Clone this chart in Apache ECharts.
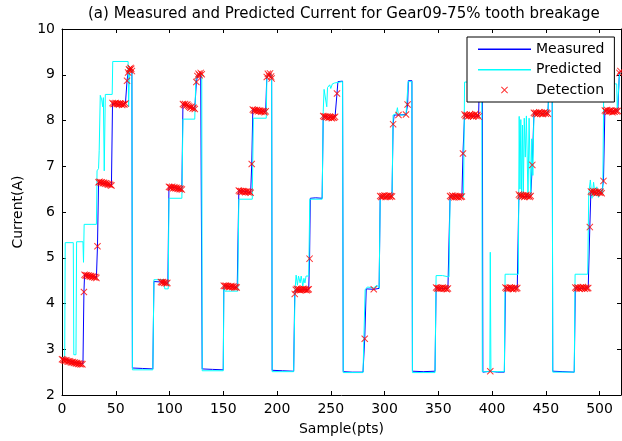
<!DOCTYPE html>
<html><head><meta charset="utf-8">
<script src="https://cdn.jsdelivr.net/npm/echarts@6/dist/echarts.min.js"></script>
<style>html,body{margin:0;padding:0;background:#fff}#c{width:622px;height:441px}</style>
</head><body><div id="c"></div>
<script>
const titleText = '(a) Measured and Predicted Current for Gear09-75% tooth breakage';
const xRange = [0, 520];
const xStep = 50;
const yRange = [2, 10];
const yStep = 1;
const seriesNames = ['Measured', 'Predicted', 'Detection'];

const measured = [
[0,2.8],[4,2.77],[8,2.73],[12,2.71],[16,2.69],[19.5,2.68],[20.4,4.25],[21,4.63],[27,4.6],[32,4.56],[33,5.25],[34,6.65],[40,6.62],[46,6.58],[47,8.38],[53,8.35],[59,8.37],[60.5,8.87],[61.5,9.05],[63.7,9.15],[65,9.08],[65.5,2.59],[75,2.58],[84.5,2.57],[85.5,4.48],[92,4.47],[98.5,4.44],[99.5,6.55],[105,6.53],[111.5,6.49],[112.5,8.36],[118,8.31],[123.5,8.25],[125,8.84],[126,8.97],[129,9.04],[130,9.0],[130.4,2.57],[140,2.56],[150,2.55],[150.5,4.39],[156,4.37],[163,4.35],[164.5,6.47],[170,6.45],[175.5,6.42],[176.5,7.05],[177.5,8.24],[183,8.21],[189.5,8.2],[190.5,8.95],[193.5,9.03],[195,8.92],[195.5,2.54],[205,2.53],[215.5,2.52],[216.5,4.21],[217.5,4.3],[223,4.3],[229.5,4.31],[230.3,4.98],[231,6.3],[236,6.31],[242,6.3],[243,8.1],[248,8.07],[254,8.08],[255.8,8.59],[256.7,8.85],[261,8.86],[261.6,2.51],[270,2.5],[280,2.5],[281.6,3.23],[283,4.32],[290,4.31],[295,4.33],[296,6.35],[301,6.33],[307,6.34],[308,7.92],[309,8.12],[313,8.12],[320,8.13],[321.5,8.35],[322.2,8.87],[325.5,8.87],[326,2.52],[336,2.51],[347,2.52],[348,4.35],[353,4.33],[359,4.33],[361,6.35],[366,6.35],[372,6.34],[373,7.28],[374.5,8.13],[380,8.1],[387.5,8.09],[388.5,9.0],[391,9.0],[391.5,2.5],[398.4,2.52],[405,2.5],[411.5,2.5],[412.5,4.35],[418,4.34],[423.5,4.34],[425,6.38],[430,6.33],[436,6.35],[437.5,7.03],[439,8.17],[445,8.15],[452,8.15],[453.5,9.0],[456,9.0],[456.5,2.52],[466,2.51],[476.5,2.5],[477.5,4.35],[483,4.33],[489.5,4.34],[491,5.67],[492,6.45],[497,6.41],[502,6.41],[503.7,6.68],[505,8.22],[510,8.2],[517,8.21],[518.5,9.04],[520,9.08]
];

const predicted = [
[0,2.82],[2.5,2.82],[3,5.33],[10.5,5.33],[11,2.88],[13,2.88],[13.6,5.35],[19.5,5.35],[20,4.9],[20.6,5.73],[32,5.73],[32.6,6.9],[34,6.95],[34.6,7.35],[35.6,8.55],[37,8.45],[37.8,8.3],[38.5,8.5],[39.3,6.9],[40.3,8.57],[46.7,8.57],[47.2,9.29],[61.5,9.29],[62,8.3],[62.8,9.1],[65,9.1],[65.5,2.55],[84.5,2.55],[85.5,4.52],[95,4.52],[95.6,4.32],[98.8,4.32],[99.5,6.3],[111.5,6.3],[112.5,8.03],[123.5,8.03],[124.5,8.9],[126,9.0],[130,9.0],[130.4,2.53],[150,2.53],[150.6,4.38],[151.5,4.27],[163.5,4.27],[164.5,6.28],[177,6.28],[178,8.05],[190,8.05],[190.6,8.98],[195,9.0],[195.5,2.51],[215.5,2.51],[216.8,4.3],[217.8,4.62],[219,4.4],[220,4.6],[221.5,4.45],[222.5,4.6],[224,4.38],[225,4.55],[226,4.45],[227,4.6],[229.5,4.6],[230.5,6.28],[242,6.28],[243,8.2],[243.8,8.68],[245.5,8.72],[246.3,8.3],[247,8.72],[249,8.78],[250,8.7],[251.5,8.8],[253.5,8.82],[254.5,8.85],[261,8.85],[261.6,2.49],[280,2.49],[282,4.3],[284,4.36],[290,4.34],[293,4.4],[295,4.34],[296,6.34],[307,6.34],[308,8.12],[311,8.15],[312,8.28],[313,8.12],[320,8.12],[322,8.85],[325.5,8.85],[326,2.49],[347,2.49],[348,4.61],[354,4.61],[355,4.58],[360,4.58],[361,6.34],[373.5,6.34],[374.5,8.84],[390.5,8.84],[391,2.51],[398,2.51],[398.4,5.12],[399,2.51],[411.5,2.51],[412.2,4.64],[416,4.64],[416.6,4.68],[417.5,4.64],[424.5,4.64],[425.3,8.09],[426,6.5],[426.8,8.02],[427.6,6.3],[428.4,7.9],[429.2,6.4],[430,8.05],[431,7.2],[432,8.1],[433.5,6.3],[434.5,8.05],[436,6.35],[437,7.6],[438,6.8],[439,8.15],[452,8.16],[453.5,9.0],[456,9.0],[456.5,2.5],[476.5,2.5],[477.3,4.64],[489,4.64],[490,6.4],[491.5,6.7],[493,6.3],[494.5,6.65],[496,6.35],[497.5,6.55],[499,6.32],[501,6.5],[503,6.4],[504,8.8],[516,8.8],[516.5,8.22],[518,8.22],[518.6,9.0],[520,9.05]
];

const detection = [
[0,2.78],[1,2.77],[2,2.76],[3,2.75],[4,2.76],[5,2.74],[6,2.73],[7,2.74],[8,2.72],[9,2.71],[10,2.72],[11,2.7],[12,2.71],[13,2.69],[14,2.7],[15,2.68],[16,2.69],[17,2.67],[18,2.68],[19,2.67],
[20.4,4.25],
[21,4.63],[22,4.61],[23,4.62],[24,4.6],[25,4.61],[26,4.59],[27,4.6],[28,4.58],[29,4.59],[30,4.57],[31,4.58],[32,4.56],
[33,5.25],
[34,6.65],[35,6.66],[36,6.64],[37,6.65],[38,6.63],[39,6.64],[40,6.62],[41,6.63],[42,6.61],[43,6.6],[44,6.61],[45,6.59],[46,6.58],
[47,8.38],[48,8.36],[49,8.37],[50,8.38],[51,8.36],[52,8.37],[53,8.35],[54,8.37],[55,8.36],[56,8.34],[57,8.36],[58,8.35],[59,8.37],
[60.5,8.87],
[61.5,9.05],[62.3,9.12],[63,9.1],[63.7,9.15],[64.4,9.13],[65,9.08],
[92,4.47],[93,4.46],[94,4.47],[95,4.45],[96,4.46],[97,4.44],[98,4.45],
[99.5,6.55],[100.5,6.54],[101.5,6.53],[102.5,6.55],[103.5,6.52],[104.5,6.54],[105.5,6.52],[106.5,6.53],[107.5,6.51],[108.5,6.52],[109.5,6.5],[110.5,6.51],[111.5,6.49],
[112.5,8.36],[113.5,8.34],[114.5,8.36],[115.5,8.33],[116.5,8.35],[117.5,8.32],[118.5,8.3],[119.5,8.28],[120.5,8.3],[121.5,8.26],[122.5,8.28],[123.5,8.25],
[125,8.84],
[126,8.97],[127,9.02],[128,8.99],[129,9.04],[130,9.01],
[150.5,4.39],[151.5,4.38],[152.5,4.39],[153.5,4.37],[154.5,4.38],[155.5,4.36],[156.5,4.37],[157.5,4.38],[158.5,4.36],[159.5,4.37],[160.5,4.35],[161.5,4.36],[162.5,4.35],
[164.5,6.47],[165.5,6.45],[166.5,6.46],[167.5,6.44],[168.5,6.46],[169.5,6.45],[170.5,6.43],[171.5,6.45],[172.5,6.44],[173.5,6.43],[174.5,6.44],[175.5,6.42],
[176.5,7.05],
[177.5,8.24],[178.5,8.22],[179.5,8.23],[180.5,8.21],[181.5,8.23],[182.5,8.2],[183.5,8.22],[184.5,8.21],[185.5,8.19],[186.5,8.21],[187.5,8.2],[188.5,8.18],[189.5,8.2],
[190.5,8.95],[191.5,9.02],[192.5,8.98],[193.5,9.03],[194.5,8.96],[195,8.92],
[216.5,4.21],
[217.5,4.3],[218.5,4.32],[219.5,4.3],[220.5,4.31],[221.5,4.29],[222.5,4.31],[223.5,4.3],[224.5,4.32],[225.5,4.3],[226.5,4.31],[227.5,4.29],[228.5,4.3],[229.5,4.31],
[230.3,4.98],
[243,8.1],[244,8.08],[245,8.09],[246,8.07],[247,8.09],[248,8.06],[249,8.08],[250,8.07],[251,8.05],[252,8.07],[253,8.06],[254,8.08],
[255.8,8.59],
[281.6,3.23],[290,4.31],
[296,6.35],[297,6.33],[298,6.35],[299,6.34],[300,6.36],[301,6.33],[302,6.35],[303,6.34],[304,6.36],[305,6.33],[306,6.35],[307,6.34],
[308,7.92],[313,8.12],[320,8.13],[321.5,8.35],
[348,4.35],[349,4.33],[350,4.34],[351,4.32],[352,4.34],[353,4.33],[354,4.35],[355,4.32],[356,4.34],[357,4.33],[358,4.31],[359,4.33],
[361,6.35],[362,6.33],[363,6.36],[364,6.34],[365,6.32],[366,6.35],[367,6.33],[368,6.34],[369,6.32],[370,6.35],[371,6.33],[372,6.34],
[373,7.28],
[374.5,8.13],[375.5,8.1],[376.5,8.12],[377.5,8.09],[378.5,8.11],[379.5,8.13],[380.5,8.1],[381.5,8.12],[382.5,8.09],[383.5,8.11],[384.5,8.14],[385.5,8.1],[386.5,8.12],[387.5,8.09],
[398.4,2.52],
[412.5,4.35],[413.5,4.33],[414.5,4.34],[415.5,4.32],[416.5,4.35],[417.5,4.33],[418.5,4.34],[419.5,4.31],[420.5,4.33],[421.5,4.35],[422.5,4.32],[423.5,4.34],
[425,6.38],[426,6.35],[427,6.37],[428,6.34],[429,6.36],[430,6.33],[431,6.35],[432,6.37],[433,6.34],[434,6.36],[435,6.33],[436,6.35],
[437.5,7.03],
[439,8.17],[440,8.15],[441,8.17],[442,8.14],[443,8.16],[444,8.18],[445,8.15],[446,8.17],[447,8.14],[448,8.16],[449,8.18],[450,8.15],[451,8.17],[452,8.15],
[477.5,4.35],[478.5,4.33],[479.5,4.35],[480.5,4.34],[481.5,4.32],[482.5,4.35],[483.5,4.33],[484.5,4.36],[485.5,4.34],[486.5,4.32],[487.5,4.35],[488.5,4.33],[489.5,4.34],
[491,5.67],
[492,6.45],[493,6.43],[494,6.46],[495,6.42],[496,6.44],[497,6.41],[498,6.43],[499,6.45],[500,6.42],[501,6.44],[502,6.41],
[503.7,6.68],
[505,8.22],[506,8.2],[507,8.23],[508,8.19],[509,8.21],[510,8.2],[511,8.22],[512,8.18],[513,8.21],[514,8.19],[515,8.22],[516,8.2],[517,8.21],
[518.5,9.04],[519.5,9.08]
];

const FONT = 'DejaVu Sans';
const xMark = 'path://M0,1L1,0L5,4L9,0L10,1L6,5L10,9L9,10L5,6L1,10L0,9L4,5Z';
const anchors = 'M0,0L0.05,0L0,0.05Z M53,14L52.95,14L53,13.95Z ';
const xMarkLegend = 'path://' + anchors + 'M23,4.2L23.7,3.5L26.5,6.3L29.3,3.5L30,4.2L27.2,7L30,9.8L29.3,10.5L26.5,7.7L23.7,10.5L23,9.8L25.8,7Z';
const lineLegend = 'path://' + anchors + 'M0,6.5L53,6.5L53,8L0,8Z';

const chart = echarts.init(document.getElementById('c'), null, {renderer: 'canvas'});
const axisCommon = {
  type: 'value',
  axisLine: {show: true, onZero: false, lineStyle: {color: '#000', width: 1}},
  axisTick: {show: true, inside: true, length: 4, lineStyle: {color: '#000'}},
  splitLine: {show: false},
};
chart.setOption({
  animation: false,
  backgroundColor: '#fff',
  title: {
    text: titleText, left: 88, top: 7, padding: 0,
    textStyle: {fontFamily: FONT, fontSize: 15, fontWeight: 'normal', color: '#000'}
  },
  grid: {left: 62, right: 1, top: 29, bottom: 39, containLabel: false},
  legend: {
    orient: 'vertical', left: 467, top: 37,
    padding: [5, 10, 5, 11], itemGap: 6.5, itemWidth: 53, itemHeight: 14,
    borderColor: '#000', borderWidth: 1, backgroundColor: '#fff',
    textStyle: {fontFamily: FONT, fontSize: 14, color: '#000'},
    data: [
      {name: seriesNames[0], icon: lineLegend},
      {name: seriesNames[1], icon: lineLegend},
      {name: seriesNames[2], icon: xMarkLegend}
    ]
  },
  xAxis: [
    Object.assign({}, axisCommon, {
      min: xRange[0], max: xRange[1], interval: xStep, position: 'bottom',
      name: 'Sample(pts)', nameLocation: 'middle', nameGap: 27,
      nameTextStyle: {fontFamily: FONT, fontSize: 14, color: '#000'},
      axisLabel: {show: true, margin: 7, showMaxLabel: false, fontFamily: FONT, fontSize: 14, color: '#000'}
    }),
    Object.assign({}, axisCommon, {
      min: xRange[0], max: xRange[1], interval: xStep, position: 'top',
      axisLabel: {show: false}
    })
  ],
  yAxis: [
    Object.assign({}, axisCommon, {
      min: yRange[0], max: yRange[1], interval: yStep, position: 'left',
      name: 'Current(A)', nameLocation: 'middle', nameGap: 37, nameRotate: 90,
      nameTextStyle: {fontFamily: FONT, fontSize: 14, color: '#000'},
      axisLabel: {show: true, margin: 7, fontFamily: FONT, fontSize: 14, color: '#000'}
    }),
    Object.assign({}, axisCommon, {
      min: yRange[0], max: yRange[1], interval: yStep, position: 'right',
      axisLabel: {show: false}
    })
  ],
  series: [
    {
      name: seriesNames[0], type: 'line', data: measured, symbol: 'none', z: 2,
      lineStyle: {color: '#0000ff', width: 1}, itemStyle: {color: '#0000ff'}
    },
    {
      name: seriesNames[1], type: 'line', data: predicted, symbol: 'none', z: 3,
      lineStyle: {color: '#00ffff', width: 1}, itemStyle: {color: '#00ffff'}
    },
    {
      name: seriesNames[2], type: 'scatter', data: detection, symbol: xMark, symbolSize: 7, z: 4,
      itemStyle: {color: '#ff0000'}
    }
  ]
});
</script>
</body></html>
